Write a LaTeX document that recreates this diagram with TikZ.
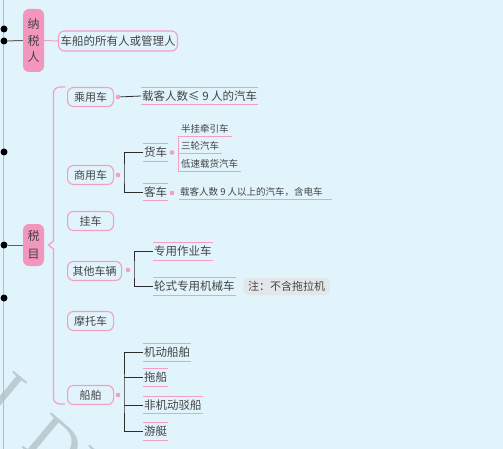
\documentclass[tikz,border=0pt]{standalone}
\usepackage{fontspec}
\newfontfamily\cjk{Noto Sans CJK SC}
\newfontfamily\wmfont{Liberation Serif}
\usetikzlibrary{calc}
\definecolor{bg}{RGB}{225,243,251}
\definecolor{pk}{RGB}{244,158,196}
\definecolor{pkfill}{RGB}{242,150,190}
\definecolor{tx}{RGB}{68,68,68}
\definecolor{ln}{RGB}{45,45,45}
\definecolor{gl}{RGB}{95,95,95}
\definecolor{notebg}{RGB}{228,231,233}
\definecolor{wmc}{RGB}{188,204,211}
\newcommand\ovun[1]{\draw[pline] (#1.north west) -- (#1.north east) (#1.south west) -- (#1.south east);}
\tikzset{
  lvlone/.style={rectangle, rounded corners=6pt, fill=pkfill, text=tx, font=\cjk\fontsize{12}{16.5}\selectfont, align=center, minimum width=21pt, inner sep=0pt},
  catbox/.style={rectangle, rounded corners=6pt, draw=pk, line width=1.1pt, fill=bg, text=tx, font=\cjk\fontsize{11}{13}\selectfont, minimum height=19pt, minimum width=46pt, inner xsep=5pt, inner ysep=0pt, anchor=west},
  leaf/.style={text=tx, font=\cjk\fontsize{11.5}{13}\selectfont, inner xsep=1pt, inner ysep=0pt, minimum height=17pt, anchor=west},
  smallleaf/.style={text=tx, font=\cjk\fontsize{9.5}{11}\selectfont, inner xsep=1pt, inner ysep=0pt, minimum height=14pt, anchor=west},
  pinkdot/.style={circle, fill=pk, inner sep=0pt, minimum size=4.6pt},
  blackdot/.style={circle, fill=black, inner sep=0pt, minimum size=7pt},
  elbow/.style={draw=ln, line width=0.8pt},
  pline/.style={draw=pk, line width=1pt},
  notebox/.style={rectangle, rounded corners=5pt, fill=notebg, text=tx, font=\cjk\fontsize{11}{13}\selectfont, minimum height=17pt, inner xsep=5pt, inner ysep=0pt, anchor=west},
  wmark/.style={text=wmc, font=\wmfont\fontsize{70}{70}\selectfont, rotate=-40, anchor=base west, inner sep=0pt}
}
\begin{document}
\begin{tikzpicture}[x=1pt,y=-1pt]
\fill[bg] (0,0) rectangle (503,449);
\useasboundingbox (0,0) rectangle (503,449);
% watermark
\begin{scope}
\clip (0,0) rectangle (503,449);
\node[wmark] (wma) at (-18,404) {I};
\node[wmark] (wmb) at (20,446) {DI};
\end{scope}
% main vertical line and dots
\draw[pk, line width=1.5pt] (3.5,0) -- (3.5,449);
\node[blackdot] (d1) at (4,29) {};
\node[blackdot] (d2) at (4,41) {};
\node[blackdot] (d3) at (4,152) {};
\node[blackdot] (d4) at (4,245) {};
\node[blackdot] (d5) at (4,298) {};
% 纳税人
\node[lvlone, minimum height=63pt] (nsr) at (33.5,40.5) {纳\\税\\人};
\draw[gl, line width=1pt] (d2) -- (nsr.west);
\node[catbox, anchor=center, font=\cjk\fontsize{11.5}{13}\selectfont, minimum height=20pt, inner xsep=2pt] (own) at (118,41) {车船的所有人或管理人};
\draw[pline] (nsr.east) -- (own.west);
% 税目
\node[lvlone, minimum height=42pt, font=\cjk\fontsize{12}{18}\selectfont] (sm) at (33.5,245) {税\\目};
\draw[gl, line width=1pt] (d4) -- (sm.west);
% brace
\draw[pk, line width=1.2pt] (65,87) -- (60,87) to[out=180,in=90] (53.5,93) -- (53.5,241) -- (48.5,245) -- (53.5,249) -- (53.5,398) to[out=-90,in=180] (60,404) -- (65,404);
% level 2 boxes
\node[catbox] (cy) at (67,97) {乘用车};
\node[catbox] (sy) at (67,175) {商用车};
\node[catbox] (gc) at (67,221) {挂车};
\node[catbox] (qt) at (67,271) {其他车辆};
\node[catbox] (mt) at (67,321) {摩托车};
\node[catbox] (cb) at (67,395) {船舶};
% 乘用车
\node[pinkdot] (p1) at (118,97) {};
\node[leaf] (cyl) at (141,96) {载客人数≤ 9 人的汽车};
\ovun{cyl}
\draw[elbow] (p1) -- (cyl.west);
% 商用车
\node[pinkdot] (p2) at (118,175) {};
\coordinate (syx) at (124,175);
\node[leaf] (hc) at (143,152.5) {货车};
\node[leaf] (kc) at (143,192) {客车};
\ovun{hc}
\ovun{kc}
\draw[elbow] (hc.west) -| (syx) |- (kc.west);
\node[pinkdot] (p3) at (172,152.5) {};
\node[pinkdot] (p4) at (172,193) {};
\node[smallleaf] (s1) at (180,129) {半挂牵引车};
\node[smallleaf] (s2) at (180,146) {三轮汽车};
\node[smallleaf] (s3) at (180,164) {低速载货汽车};
\draw[pline] ($(s1.south west)+(-2,0)$) -- ($(s3.south west)+(-2,0)$);
\foreach \s in {s1,s2,s3}{\draw[pline] ($(\s.south west)+(-2,0)$) -- ($(\s.south east)+(2,0)$);}
\node[smallleaf] (kl) at (179,192) {载客人数 9 人以上的汽车，含电车};
\draw[pline] (kl.south west) -- ($(kl.south east)+(8,0)$);
% 其他车辆
\node[pinkdot] (p5) at (128,270) {};
\coordinate (qtx) at (134,270);
\node[leaf] (zy) at (153,251.5) {专用作业车};
\node[leaf] (lz) at (153,286.5) {轮式专用机械车};
\ovun{zy}
\ovun{lz}
\draw[elbow] (zy.west) -| (qtx) |- (lz.west);
\node[notebox] (note) at (243,286.5) {注：不含拖拉机};
% 船舶
\node[pinkdot] (p6) at (118,395) {};
\coordinate (cbx) at (124,395);
\node[leaf] (j1) at (143,352.5) {机动船舶};
\node[leaf] (j2) at (143,377.5) {拖船};
\node[leaf] (j3) at (143,405) {非机动驳船};
\node[leaf] (j4) at (143,431.5) {游艇};
\foreach \j in {j1,j2,j3,j4}{\ovun{\j}}
\draw[elbow] (j1.west) -| (cbx) |- (j4.west);
\draw[elbow] (j2.west) -- (j2.west -| cbx);
\draw[elbow] (j3.west) -- (j3.west -| cbx);
\end{tikzpicture}
\end{document}
